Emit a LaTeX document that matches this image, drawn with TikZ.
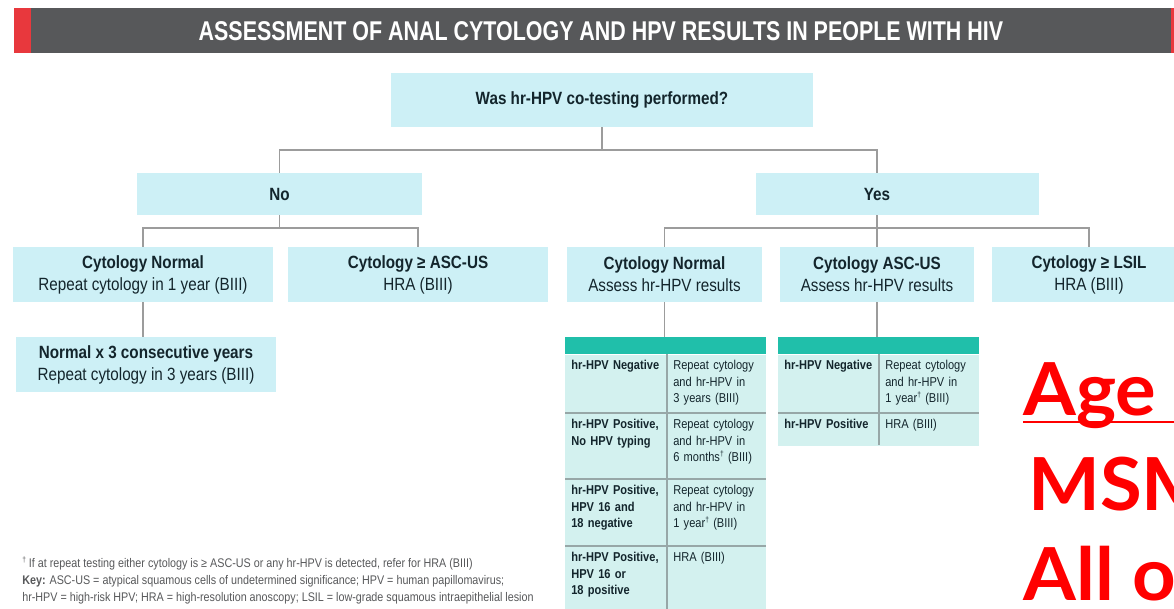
\documentclass[tikz,border=0pt]{standalone}
\usepackage{fontspec}
\setmainfont[FakeStretch=0.86]{Liberation Sans}
\newfontfamily\titlefont[FakeStretch=0.79]{Liberation Sans}
\newfontfamily\markfont[FakeStretch=1.04]{Lato}
\usepackage{tikz}
\usetikzlibrary{positioning}

\definecolor{boxcyan}{HTML}{CDF0F6}
\definecolor{cellfill}{HTML}{D3F1EF}
\definecolor{tealhead}{HTML}{20BFAA}
\definecolor{conngrey}{HTML}{9C9C9C}
\definecolor{divgrey}{HTML}{97A7A7}
\definecolor{titlegrey}{HTML}{57585A}
\definecolor{titlered}{HTML}{E8383D}
\definecolor{textdark}{HTML}{13252C}
\definecolor{footgrey}{HTML}{58595B}

\newcommand\boxfont{\fontsize{12.6}{15.6}\selectfont}
\newcommand\cellfont{\fontsize{9.15}{11.7}\selectfont}
\newcommand\footfont{\fontsize{8.9}{12}\selectfont}
\newcommand\dagmark{\raisebox{0.4em}{\fontsize{5.5}{6}\selectfont †}}

\begin{document}
\begin{tikzpicture}[%
            x=0.025cm, y=-0.025cm,
            box/.style={fill=boxcyan, text=textdark, align=center, inner sep=0pt,
                minimum width=#1, minimum height=1.375cm, font=\boxfont},
            conn/.style={draw=conngrey, line width=1.4pt},
            tablehead/.style={fill=tealhead, anchor=north west, inner sep=0pt,
                minimum width=5.025cm, minimum height=0.425cm},
            tablebody/.style={fill=cellfill, anchor=north west, inner sep=0pt,
                minimum width=5.025cm},
            cell/.style={anchor=north west, align=left, inner sep=0.15cm,
                text width=#1, text=textdark, font=\cellfont},
            lcell/.style={cell=2.7cm, font=\cellfont\bfseries},
            divider/.style={draw=divgrey, line width=1.4pt},
            note/.style={anchor=north west, align=left, inner sep=0pt,
                text=footgrey, font=\footfont},
            overlaytext/.style={text=red, anchor=base west, inner sep=0pt,
                font=\markfont\bfseries\fontsize{52}{52}\selectfont},
        ]
        \useasboundingbox (0,0) rectangle (1174,608);
        \clip (0,0) rectangle (1174,608);
        \fill[white] (0,0) rectangle (1174,608);

        % title bar
        \node[fill=titlegrey, anchor=north west, minimum width=28.475cm,
            minimum height=1.125cm, text=white,
            font=\titlefont\bfseries\fontsize{19.3}{20}\selectfont]
            (title) at (31,8) {ASSESSMENT OF ANAL CYTOLOGY AND HPV RESULTS IN PEOPLE WITH HIV};
        \fill[titlered] (title.north west) rectangle ++(-17,45);
        \fill[titlered] (title.north east) rectangle ++(4,45);

        % question and first split
        \node[box=10.55cm, minimum height=1.35cm] (query) at (602,100)
            {\textbf{Was hr-HPV co-testing performed?}};
        \node[box=7.125cm, minimum height=1.05cm] (no) at (279.5,194) {\textbf{No}};
        \node[box=7.075cm, minimum height=1.05cm] (yes) at (897.5,194) {};
        \node[font=\boxfont\bfseries, text=textdark, inner sep=0pt] (yestext) at (877,194) {Yes};

        % no branch
        \node[box=6.5cm] (normalno) at (143,274.5)
            {\textbf{Cytology Normal}\\Repeat cytology in 1 year (BIII)};
        \node[box=6.5cm] (ascusno) at (418,274.5)
            {\textbf{Cytology ≥ ASC-US}\\HRA (BIII)};
        \node[box=6.5cm] (threeyears) at (146,364.5)
            {\textbf{Normal x 3 consecutive years}\\Repeat cytology in 3 years (BIII)};

        % yes branch
        \node[box=4.875cm] (normalyes) at (664.5,274.5)
            {\textbf{Cytology Normal}\\Assess hr-HPV results};
        \node[box=4.85cm] (ascusyes) at (877,274.5)
            {\textbf{Cytology ASC-US}\\Assess hr-HPV results};
        \node[box=4.85cm] (lsil) at (1089,274.5)
            {\textbf{Cytology ≥ LSIL}\\HRA (BIII)};

        % connectors
        \draw[conn] (query.south) -- ++(0,23) coordinate (querysplit);
        \draw[conn] (no.north) |- (querysplit) -| (yestext |- yes.north);
        \draw[conn] (no.south) -- ++(0,13) coordinate (nosplit);
        \draw[conn] (normalno.north) |- (nosplit) -| (ascusno.north);
        \draw[conn] (normalno.south) -- (normalno.south |- threeyears.north);
        \draw[conn] (yestext |- yes.south) -- ++(0,13) coordinate (yessplit);
        \draw[conn] (normalyes.north) |- (yessplit) -| (lsil.north);
        \draw[conn] (yessplit) -- (ascusyes.north);

        % table for cytology normal
        \node[tablehead] (headnormal) at (565,337) {};
        \node[tablebody, minimum height=6.525cm] (bodynormal) at (headnormal.south west) {};
        \draw[conn] (normalyes.south) -- (normalyes.south |- headnormal.north);
        \foreach \y in {413,479,546}
            \draw[divider] (565,\y) -- (766,\y);
        \draw[divider] (667,354) -- (667,615);
        \node[lcell] (negnormal) at (565,354) {hr-HPV Negative};
        \node[cell=2.175cm] (negnormalres) at (667,354)
            {Repeat cytology\\and hr-HPV in\\3 years (BIII)};
        \node[lcell] (posnotype) at (565,413) {hr-HPV Positive,\\No HPV typing};
        \node[cell=2.175cm] (posnotyperes) at (667,413)
            {Repeat cytology\\and hr-HPV in\\6 months\dagmark{} (BIII)};
        \node[lcell] (posneg) at (565,479) {hr-HPV Positive,\\HPV 16 and\\18 negative};
        \node[cell=2.175cm] (posnegres) at (667,479)
            {Repeat cytology\\and hr-HPV in\\1 year\dagmark{} (BIII)};
        \node[lcell] (pospos) at (565,546) {hr-HPV Positive,\\HPV 16 or\\18 positive};
        \node[cell=2.175cm] (posposres) at (667,546) {HRA (BIII)};

        % table for cytology asc-us
        \node[tablehead] (headascus) at (778,337) {};
        \node[tablebody, minimum height=2.275cm] (bodyascus) at (headascus.south west) {};
        \draw[conn] (ascusyes.south) -- (ascusyes.south |- headascus.north);
        \draw[divider] (778,413) -- (979,413);
        \draw[divider] (879,354) -- (879,445);
        \node[lcell] (negascus) at (778,354) {hr-HPV Negative};
        \node[cell=2.2cm] (negascusres) at (879,354)
            {Repeat cytology\\and hr-HPV in\\1 year\dagmark{} (BIII)};
        \node[lcell] (posascus) at (778,413) {hr-HPV Positive};
        \node[cell=2.2cm] (posascusres) at (879,413) {HRA (BIII)};

        % footnote and key
        \node[note] (key) at (22,557)
            {\dagmark{} If at repeat testing either cytology is ≥ ASC-US or any hr-HPV is detected, refer for HRA (BIII)\\
            \textbf{Key:} ASC-US = atypical squamous cells of undetermined significance; HPV = human papillomavirus;\\
            hr-HPV = high-risk HPV; HRA = high-resolution anoscopy; LSIL = low-grade squamous intraepithelial lesion};

        % red overlay text
        \node[overlaytext] (age) at (1023,415) {Age};
        \draw[red, line width=1.6pt] ([yshift=-0.18cm]age.base west) -- ++(160,0);
        \node[overlaytext] (msm) at (1028,510) {MSM};
        \node[overlaytext] (all) at (1023,600) {All o};
    \end{tikzpicture}
\end{document}
